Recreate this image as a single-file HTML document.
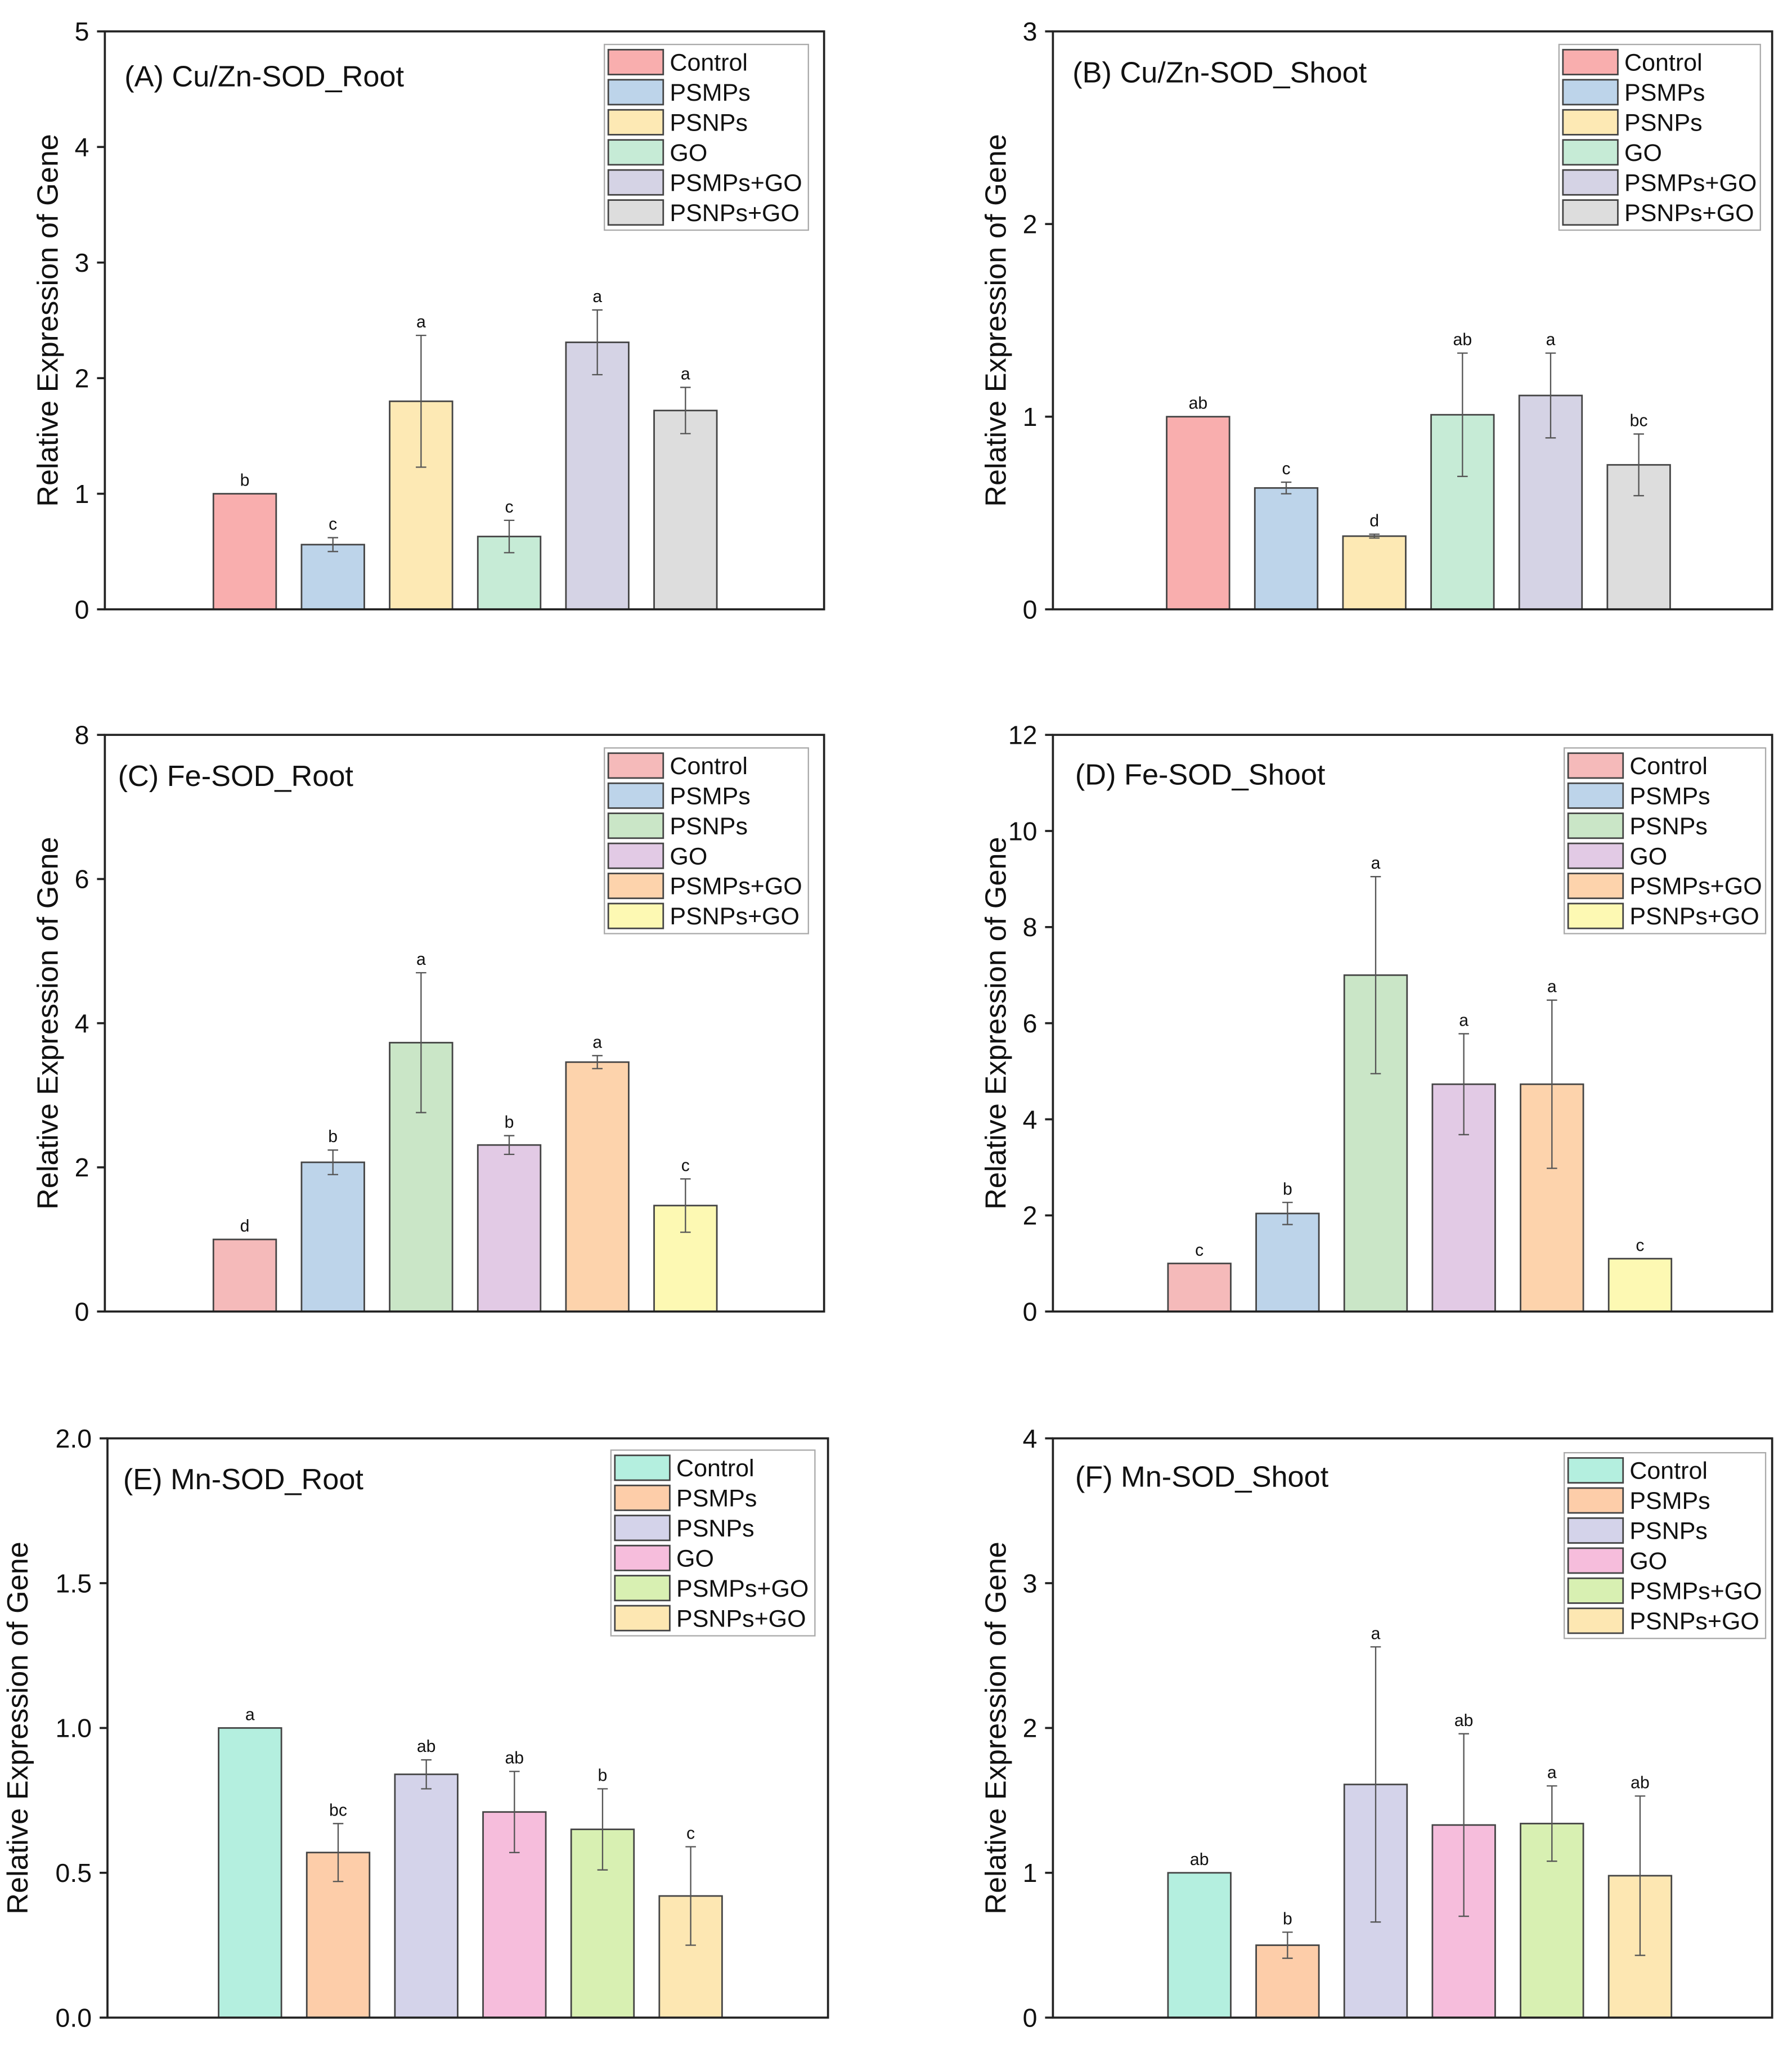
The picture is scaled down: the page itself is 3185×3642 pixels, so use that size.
<!DOCTYPE html>
<html><head><meta charset="utf-8"><style>
html,body{margin:0;padding:0;background:#fff}
svg{display:block}
text{font-family:"Liberation Sans",Arial,sans-serif;fill:#111}
</style></head><body>
<svg id="fig" width="3185" height="3642" viewBox="0 0 1370 1567" xmlns="http://www.w3.org/2000/svg"></svg>
<script>
const categories = ["Control","PSMPs","PSNPs","GO","PSMPs+GO","PSNPs+GO"];
const legendA = ["Control","PSMPs","PSNPs","GO","PSMPs+GO","PSNPs+GO"];
const valuesA = [1.0,0.56,1.8,0.63,2.31,1.72];
const errA = [0,0.06,0.57,0.14,0.28,0.2];
const lettersA = ["b","c","a","c","a","a"];
const ticksA = [0,1,2,3,4,5];
const valuesB = [1.0,0.63,0.38,1.01,1.11,0.75];
const errB = [0,0.03,0.01,0.32,0.22,0.16];
const lettersB = ["ab","c","d","ab","a","bc"];
const ticksB = [0,1,2,3];
const valuesC = [1.0,2.07,3.73,2.31,3.46,1.47];
const errC = [0,0.17,0.97,0.13,0.09,0.37];
const lettersC = ["d","b","a","b","a","c"];
const ticksC = [0,2,4,6,8];
const valuesD = [1.0,2.04,7.0,4.73,4.73,1.1];
const errD = [0,0.23,2.05,1.05,1.75,0];
const lettersD = ["c","b","a","a","a","c"];
const ticksD = [0,2,4,6,8,10,12];
const valuesE = [1.0,0.57,0.84,0.71,0.65,0.42];
const errE = [0,0.1,0.05,0.14,0.14,0.17];
const lettersE = ["a","bc","ab","ab","b","c"];
const ticksE = [0.0,0.5,1.0,1.5,2.0];
const valuesF = [1.0,0.5,1.61,1.33,1.34,0.98];
const errF = [0,0.09,0.95,0.63,0.26,0.55];
const lettersF = ["ab","b","a","ab","a","ab"];
const ticksF = [0,1,2,3,4];

const colsAB = ["#f9aeae","#bdd4ea","#fde9b4","#c6ebd6","#d5d3e5","#dddddd"];
const colsCD = ["#f5baba","#bdd4ea","#cae6c7","#e2cae5","#fdd3ac","#fdf9b3"];
const colsEF = ["#b4efdf","#fdcda9","#d4d3ea","#f6bddc","#d8f0b2","#fde7b2"];

const NS="http://www.w3.org/2000/svg";
const svg=document.getElementById('fig');
function mk(tag,attrs,parent,txt){const e=document.createElementNS(NS,tag);for(const k in attrs)e.setAttribute(k,attrs[k]);if(txt!==undefined)e.textContent=txt;(parent||svg).appendChild(e);return e;}

const panels=[
 {id:"a",title:"(A) Cu/Zn-SOD_Root",L:80,R:630,T:24,B:466,off:107,vals:valuesA,err:errA,let:lettersA,ticks:ticksA,cols:colsAB,leg:[462,34,156],tx:95,ty:66,dec:0},
 {id:"b",title:"(B) Cu/Zn-SOD_Shoot",L:805,R:1355,T:24,B:466,off:111,vals:valuesB,err:errB,let:lettersB,ticks:ticksB,cols:colsAB,leg:[1192,34,154],tx:820,ty:63,dec:0},
 {id:"c",title:"(C) Fe-SOD_Root",L:80,R:630,T:562,B:1003,off:107,vals:valuesC,err:errC,let:lettersC,ticks:ticksC,cols:colsCD,leg:[462,572,156],tx:90,ty:601,dec:0},
 {id:"d",title:"(D) Fe-SOD_Shoot",L:805,R:1355,T:562,B:1003,off:112,vals:valuesD,err:errD,let:lettersD,ticks:ticksD,cols:colsCD,leg:[1196,572,154],tx:822,ty:600,dec:0},
 {id:"e",title:"(E) Mn-SOD_Root",L:82,R:633,T:1100,B:1543,off:109,vals:valuesE,err:errE,let:lettersE,ticks:ticksE,cols:colsEF,leg:[467,1109,156],tx:94,ty:1139,dec:1},
 {id:"f",title:"(F) Mn-SOD_Shoot",L:805,R:1355,T:1100,B:1543,off:112,vals:valuesF,err:errF,let:lettersF,ticks:ticksF,cols:colsEF,leg:[1196,1111,154],tx:822,ty:1137,dec:0}
];

panels.forEach(p=>{
  const g=mk('g',{});
  
  
  const ymax=p.ticks[p.ticks.length-1];
  const y=v=>p.B-(v/ymax)*(p.B-p.T);
  const x=i=>p.L+p.off+i*67.4;
  p.vals.forEach((v,i)=>{
    const r=mk('rect',{x:x(i)-24,y:y(v),width:48,height:p.B-y(v),fill:p.cols[i],stroke:'#444','stroke-width':1.2},g);
    
    
    const e=p.err[i];
    if(e>0){
      const eg=mk('g',{stroke:'#555','stroke-width':1},g);
      
      
      mk('line',{x1:x(i),x2:x(i),y1:y(v+e),y2:y(v-e)},eg);
      mk('line',{x1:x(i)-4,x2:x(i)+4,y1:y(v+e),y2:y(v+e)},eg);
      mk('line',{x1:x(i)-4,x2:x(i)+4,y1:y(v-e),y2:y(v-e)},eg);
    }
    const t=mk('text',{x:x(i),y:y(v+e)-6,'text-anchor':'middle','font-size':13},g,p.let[i]);
    
    
  });
  const f=mk('rect',{x:p.L,y:p.T,width:p.R-p.L,height:p.B-p.T,fill:'none',stroke:'#222','stroke-width':1.6},g);
  
  
  p.ticks.forEach(t=>{
    mk('line',{x1:p.L-6,x2:p.L,y1:y(t),y2:y(t),stroke:'#222','stroke-width':1.6},g);
    const tl=mk('text',{x:p.L-12,y:y(t)+7,'text-anchor':'end','font-size':20},g,t.toFixed(p.dec));
    
    
  });
  const yt=mk('text',{x:0,y:0,'text-anchor':'middle','font-size':22.5,transform:`translate(${p.L-(p.dec?61:36)},${(p.T+p.B)/2}) rotate(-90)`},g,'Relative Expression of Gene');
  
  
  const ti=mk('text',{x:p.tx,y:p.ty,'font-size':22.5},g,p.title);
  
  
  const [lx,ly,lw]=p.leg;
  const lg=mk('g',{},g);
  
  
  mk('rect',{x:lx,y:ly,width:lw,height:142,fill:'#fff',stroke:'#aaa','stroke-width':1},lg);
  legendA.forEach((n,i)=>{
    const en=mk('g',{},lg);
    
    
    mk('rect',{x:lx+3,y:ly+4+i*23,width:42,height:19,fill:p.cols[i],stroke:'#444','stroke-width':1.2},en);
    mk('text',{x:lx+50,y:ly+20+i*23,'font-size':18.5},en,n);
  });
});
</script>
</body></html>
